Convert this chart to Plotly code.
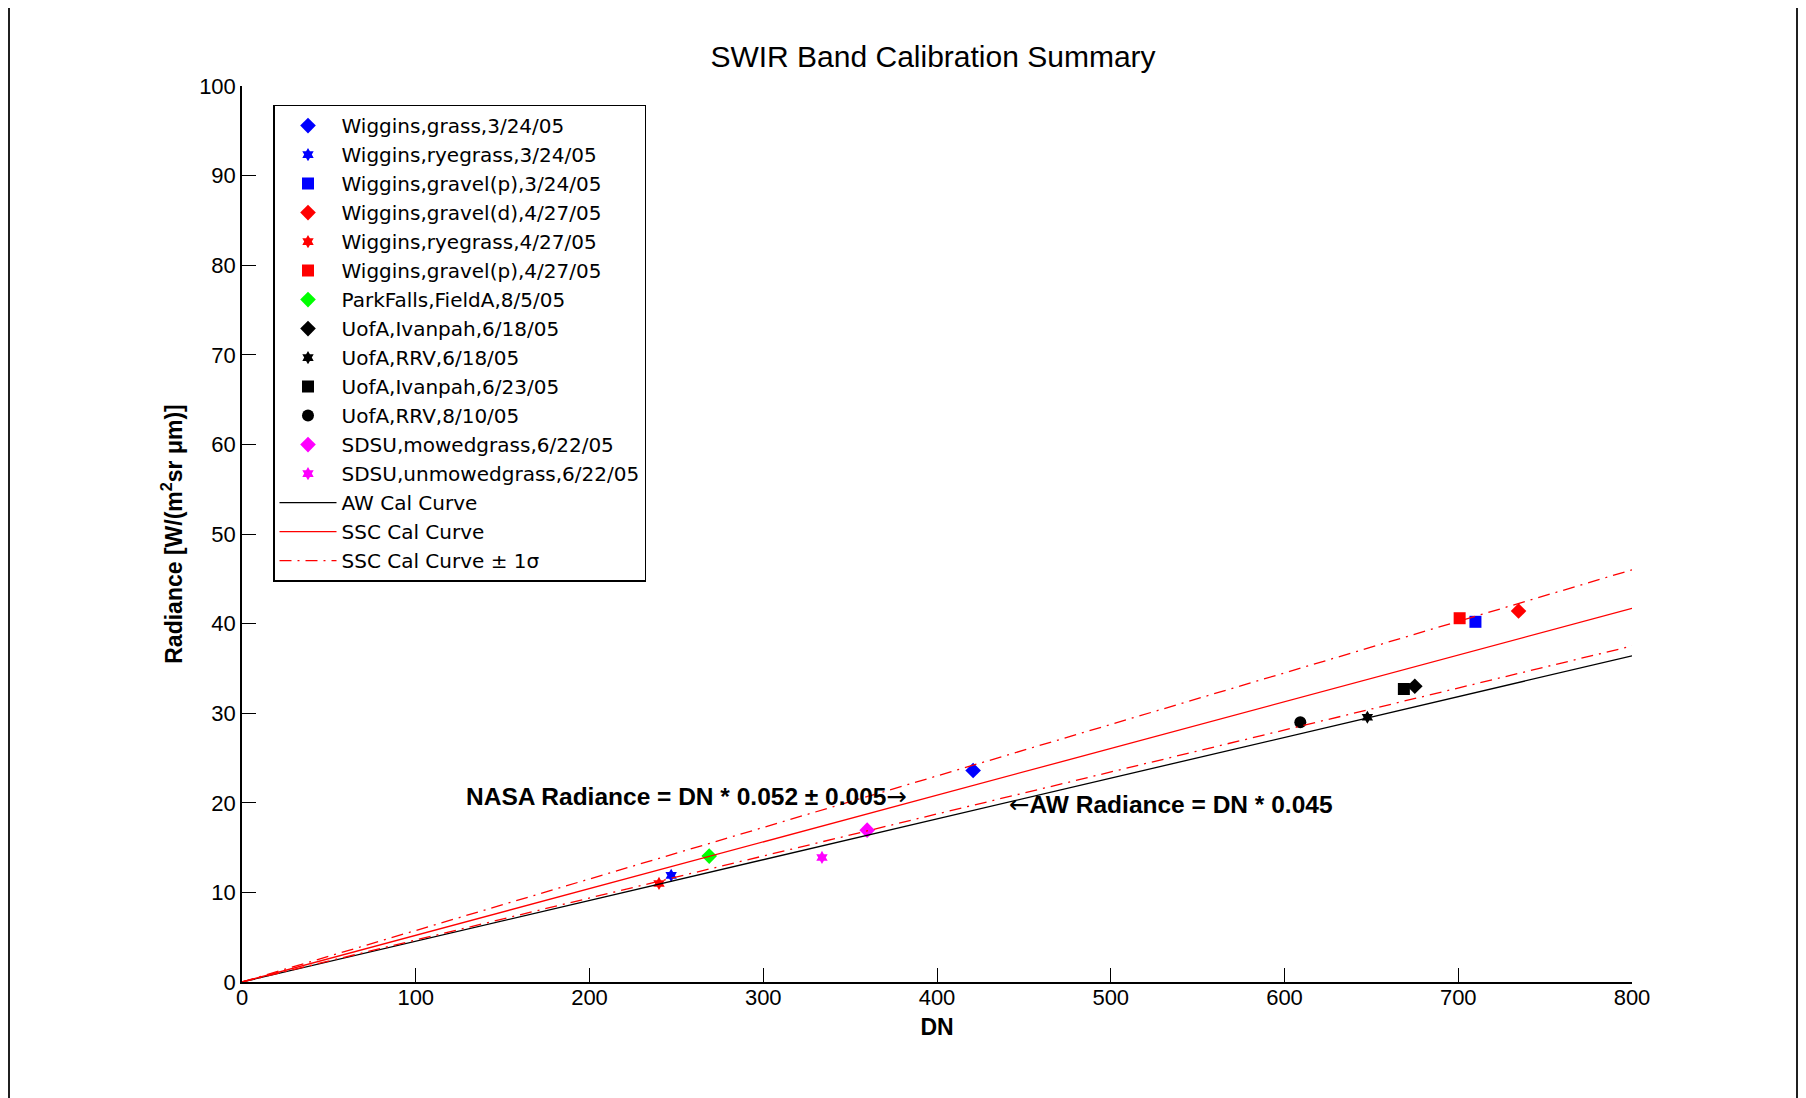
import plotly.graph_objects as go

# ---- data ----
site_labels = [
    "Wiggins,grass,3/24/05",
    "Wiggins,ryegrass,3/24/05",
    "Wiggins,gravel(p),3/24/05",
    "Wiggins,gravel(d),4/27/05",
    "Wiggins,ryegrass,4/27/05",
    "Wiggins,gravel(p),4/27/05",
    "ParkFalls,FieldA,8/5/05",
    "UofA,Ivanpah,6/18/05",
    "UofA,RRV,6/18/05",
    "UofA,Ivanpah,6/23/05",
    "UofA,RRV,8/10/05",
    "SDSU,mowedgrass,6/22/05",
    "SDSU,unmowedgrass,6/22/05",
]
site_dn = [420.8, 247.0, 709.9, 734.7, 240.0, 700.8, 268.9, 675.0, 647.7, 668.7, 609.1, 359.8, 333.8]
site_radiance = [23.6, 11.9, 40.2, 41.4, 11.0, 40.6, 14.05, 33.0, 29.55, 32.7, 29.0, 16.95, 13.9]

cal_dn = [0, 800]
aw_radiance = [0, 36.4]
ssc_radiance = [0, 41.7]
ssc_upper_radiance = [0, 46.0]
ssc_lower_radiance = [0, 37.5]

x_ticks = [0, 100, 200, 300, 400, 500, 600, 700, 800]
y_ticks = [0, 10, 20, 30, 40, 50, 60, 70, 80, 90, 100]

# ---- styles ----
marker_colors = ["#0000FF", "#0000FF", "#0000FF", "#FF0000", "#FF0000", "#FF0000",
                 "#00FF00", "#000000", "#000000", "#000000", "#000000", "#FF00FF", "#FF00FF"]
marker_symbols = ["diamond", "hexagram", "square", "diamond", "hexagram", "square",
                  "diamond", "diamond", "hexagram", "square", "circle",
                  "diamond", "hexagram"]
marker_sizes = [12, 10, 12, 12, 10, 12, 12, 12, 10, 12, 12, 12, 10]

FONT = "Liberation Sans, Arial, sans-serif"
LEGEND_FONT = "DejaVu Sans, Liberation Sans, Arial, sans-serif"
ARROW = '<span style="font-family:DejaVu Sans;font-weight:normal">{}</span>'

# page body has an 8px margin: the figure is placed at (8, 8) in the window
OFF = 8
W, H = 1806 - OFF, 1098 - OFF
PL, PR, PT, PB = 242, 1632, 86.4, 982.5  # plot area in window pixels

fig = go.Figure()

for lab, xv, yv, c, s, sz in zip(site_labels, site_dn, site_radiance,
                                 marker_colors, marker_symbols, marker_sizes):
    fig.add_trace(go.Scatter(
        x=[xv], y=[yv], mode="markers", name=lab,
        marker=dict(color=c, symbol=s, size=sz, line=dict(width=0)),
    ))

fig.add_trace(go.Scatter(x=cal_dn, y=aw_radiance, mode="lines", name="AW Cal Curve",
                         line=dict(color="black", width=1.3)))
fig.add_trace(go.Scatter(x=cal_dn, y=ssc_radiance, mode="lines", name="SSC Cal Curve",
                         line=dict(color="#FF0000", width=1.3)))
fig.add_trace(go.Scatter(x=cal_dn, y=ssc_upper_radiance, mode="lines",
                         name="SSC Cal Curve ± 1σ", legendgroup="sig",
                         line=dict(color="#FF0000", width=1.3, dash="12px,6px,2px,6px")))
fig.add_trace(go.Scatter(x=cal_dn, y=ssc_lower_radiance, mode="lines",
                         name="SSC Cal Curve ± 1σ", legendgroup="sig", showlegend=False,
                         line=dict(color="#FF0000", width=1.3, dash="12px,6px,2px,6px")))

fig.add_annotation(x=128.0, y=20.74, xref="x", yref="y", xanchor="left", yanchor="middle",
                   text="<b>NASA Radiance = DN * 0.052 ± 0.005</b>" + ARROW.format("→"),
                   showarrow=False, font=dict(family=FONT, size=24.5, color="black"))
fig.add_annotation(x=440.5, y=19.81, xref="x", yref="y", xanchor="left", yanchor="middle",
                   text=ARROW.format("←") + "<b>AW Radiance = DN * 0.045</b>",
                   showarrow=False, font=dict(family=FONT, size=24.5, color="black"))

# figure frame (window border)
fig.add_shape(type="rect", xref="paper", yref="paper",
              x0=(9 - PL) / (PR - PL), x1=(1797 - PL) / (PR - PL),
              y0=-0.3, y1=(PB - 3.5) / (PB - PT),
              line=dict(color="#202020", width=2), fillcolor="rgba(0,0,0,0)", layer="below")

fig.update_layout(
    width=W, height=H,
    margin=dict(l=PL - OFF, r=W - (PR - OFF), t=PT - OFF, b=H - (PB - OFF)),
    paper_bgcolor="white", plot_bgcolor="white",
    font=dict(family=FONT, size=22, color="black"),
    title=dict(text="SWIR Band Calibration Summary", x=(933 - OFF) / W, xref="container",
               xanchor="center", y=1 - (56 - OFF) / H, yref="container", yanchor="middle",
               font=dict(family=FONT, size=30, color="black")),
    showlegend=True,
    legend=dict(x=(273 - PL) / (PR - PL), y=(PB - 105) / (PB - PT), xanchor="left", yanchor="top",
                bgcolor="white", bordercolor="black", borderwidth=1.5,
                font=dict(family=LEGEND_FONT, size=20, color="black"),
                traceorder="normal", itemwidth=57),
    xaxis=dict(range=[0, 800], tickvals=x_ticks, ticktext=[str(v) for v in x_ticks],
               ticks="inside", ticklen=14, tickwidth=1, tickcolor="black",
               ticklabelstandoff=-5,
               showline=True, linecolor="black", linewidth=1.5, mirror=False,
               showgrid=False, zeroline=False,
               tickfont=dict(family=FONT, size=22, color="black"),
               title=dict(text="<b>DN</b>", font=dict(family=FONT, size=23, color="black"),
                          standoff=10)),
    yaxis=dict(range=[0, 100], tickvals=y_ticks, ticktext=[str(v) for v in y_ticks],
               ticks="inside", ticklen=14, tickwidth=1, tickcolor="black",
               showline=True, linecolor="black", linewidth=1.5, mirror=False,
               showgrid=False, zeroline=False,
               tickfont=dict(family=FONT, size=22, color="black"),
               title=dict(text="<b>Radiance [W/(m<sup>2</sup>sr μm)]</b>",
                          font=dict(family=FONT, size=23, color="black"), standoff=10)),
)

fig.write_html("out.html")
